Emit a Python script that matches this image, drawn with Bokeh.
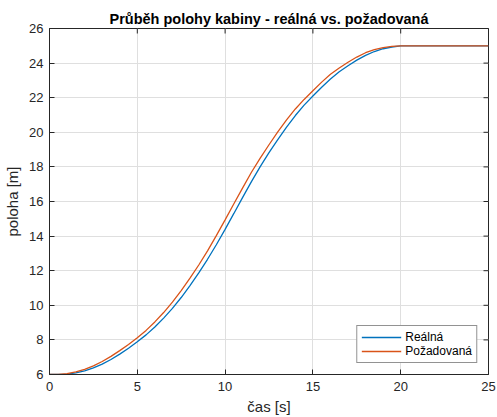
from math import pi

from bokeh.plotting import figure
from bokeh.models import FixedTicker, Legend, LegendItem, Range1d
from bokeh.embed import file_html
from bokeh.resources import INLINE

# time samples [s]
cas = [0.0, 0.5, 1.0, 1.5, 2.0, 2.5, 3.0, 3.5, 4.0, 4.5,
       5.0, 5.5, 6.0, 6.5, 7.0, 7.5, 8.0, 8.5, 9.0, 9.5,
       10.0, 10.5, 11.0, 11.5, 12.0, 12.5, 13.0, 13.5, 14.0, 14.5,
       15.0, 15.5, 16.0, 16.5, 17.0, 17.5, 18.0, 18.5, 19.0, 19.5,
       20.0, 20.5, 21.0, 21.5, 22.0, 22.5, 23.0, 23.5, 24.0, 24.5, 25.0]

# measured cabin position [m]
poloha_realna = [6.00, 6.00, 6.02, 6.10, 6.21, 6.38, 6.60, 6.87, 7.18, 7.52,
                 7.89, 8.29, 8.75, 9.26, 9.82, 10.45, 11.14, 11.87, 12.66, 13.50,
                 14.39, 15.31, 16.24, 17.15, 18.02, 18.82, 19.58, 20.30, 20.97, 21.57,
                 22.10, 22.60, 23.08, 23.50, 23.85, 24.17, 24.45, 24.67, 24.83, 24.93,
                 24.99, 25.00, 25.00, 25.00, 25.00, 25.00, 25.00, 25.00, 25.00, 25.00, 25.00]

# demanded cabin position [m]
poloha_pozadovana = [6.00, 6.00, 6.05, 6.15, 6.30, 6.50, 6.75, 7.05, 7.38, 7.73,
                     8.12, 8.55, 9.04, 9.58, 10.18, 10.85, 11.57, 12.33, 13.15, 14.03,
                     14.94, 15.87, 16.79, 17.69, 18.51, 19.28, 20.02, 20.72, 21.35, 21.90,
                     22.40, 22.90, 23.35, 23.72, 24.05, 24.35, 24.60, 24.78, 24.90, 24.97,
                     25.00, 25.00, 25.00, 25.00, 25.00, 25.00, 25.00, 25.00, 25.00, 25.00, 25.00]

x_ticks = [0, 5, 10, 15, 20, 25]
y_ticks = [6, 8, 10, 12, 14, 16, 18, 20, 22, 24, 26]

X_MIN, X_MAX = 0, 25
Y_MIN, Y_MAX = 6, 26

FONT = "Liberation Sans"
AX = "#262626"
BLUE = "#0072BD"
ORANGE = "#D95319"

p = figure(width=497, height=417,
           x_range=Range1d(X_MIN, X_MAX), y_range=Range1d(Y_MIN, Y_MAX),
           output_backend="svg", toolbar_location=None,
           title="Průběh polohy kabiny - reálná vs. požadovaná",
           x_axis_label="čas [s]", y_axis_label="poloha [m]",
           min_border_left=49, min_border_right=9,
           min_border_top=28, min_border_bottom=42)

p.background_fill_color = "white"
p.border_fill_color = "white"
p.outline_line_color = AX
p.outline_line_width = 1

p.title.align = "center"
p.title.text_font = FONT
p.title.text_font_size = "14.5px"
p.title.text_font_style = "bold"
p.title.text_color = "#000000"
p.title.standoff = 4

for ax, ticks in ((p.xaxis[0], x_ticks), (p.yaxis[0], y_ticks)):
    ax.ticker = FixedTicker(ticks=ticks)
    ax.axis_line_color = AX
    ax.axis_line_width = 1
    ax.major_tick_line_color = AX
    ax.major_tick_in = 5
    ax.major_tick_out = 0
    ax.minor_tick_line_color = None
    ax.major_label_text_font = FONT
    ax.major_label_text_font_size = "13px"
    ax.major_label_text_color = AX
    ax.axis_label_text_font = FONT
    ax.axis_label_text_font_size = "15px"
    ax.axis_label_text_font_style = "normal"
    ax.axis_label_text_color = AX

p.xaxis[0].major_label_standoff = 7
p.xaxis[0].axis_label_standoff = 4
p.yaxis[0].major_label_standoff = 6
p.yaxis[0].axis_label_standoff = 5

p.xgrid.ticker = FixedTicker(ticks=x_ticks)
p.ygrid.ticker = FixedTicker(ticks=y_ticks)
for g in (p.xgrid[0], p.ygrid[0]):
    g.grid_line_color = "#dfdfdf"
    g.grid_line_width = 1

# inward ticks along the top and right edges of the box (the outer half is clipped)
p.scatter(x_ticks, [Y_MAX] * len(x_ticks), marker="dash", angle=pi / 2,
          size=10, line_color=AX, line_width=1)
p.scatter([X_MAX] * len(y_ticks), y_ticks, marker="dash", angle=0,
          size=10, line_color=AX, line_width=1)

r_real = p.line(cas, poloha_realna, line_color=BLUE, line_width=1.3)
r_poz = p.line(cas, poloha_pozadovana, line_color=ORANGE, line_width=1.3)

legend = Legend(items=[LegendItem(label="Reálná", renderers=[r_real]),
                       LegendItem(label="Požadovaná", renderers=[r_poz])],
                location="bottom_right", margin=11,
                padding=4, spacing=0, label_height=14, glyph_height=14,
                glyph_width=40, label_standoff=4,
                label_text_font=FONT, label_text_font_size="12px",
                label_text_color="#000000",
                border_line_color=AX, border_line_width=1,
                background_fill_color="white", background_fill_alpha=1)
p.add_layout(legend, "center")

open("out.html", "w").write(file_html(p, INLINE))
